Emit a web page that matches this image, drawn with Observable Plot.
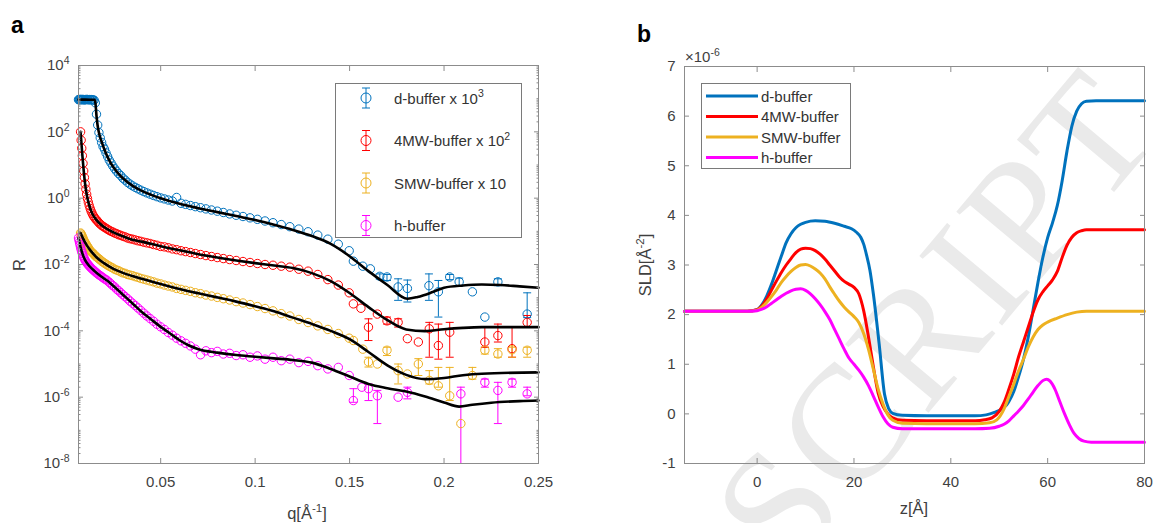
<!DOCTYPE html>
<html><head><meta charset="utf-8">
<script src="https://cdn.jsdelivr.net/npm/d3@7"></script>
<script src="https://cdn.jsdelivr.net/npm/@observablehq/plot@0.6"></script>
<style>
body{margin:0;background:#fff;}
#wrap{position:relative;width:1155px;height:523px;overflow:hidden;font-family:"Liberation Sans",Arial,sans-serif;background:#fff;}
.layer{position:absolute;top:0;}
</style></head><body>
<div id="wrap"></div>
<script>
// ---------- Panel a data (displayed, already scaled) ----------
const qGrid = [0.0065,0.00676,0.00703,0.00731,0.0076,0.0079,0.00822,0.00855,0.00889,0.00925,0.00962,0.01,0.0104,0.01082,0.01125,0.0117,0.01217,0.01266,0.01316,0.01369,0.01424,0.01481,0.0154,0.01602,0.01666,0.01732,0.01801,0.01874,0.01948,0.02026,0.02107,0.02192,0.0228,0.02371,0.02466,0.02564,0.02667,0.02773,0.02884,0.03,0.0312,0.03245,0.03375,0.0351,0.0365,0.03796,0.03948,0.04106,0.0427,0.04441,0.04618,0.04803,0.04995,0.05195,0.05403,0.05619,0.05844,0.06077,0.0632,0.06573,0.06836,0.0711,0.07394,0.0769,0.07997,0.08317,0.0865,0.08996,0.09356,0.0973,0.10119,0.10524,0.10945,0.11383,0.11838,0.12312,0.12804,0.13316,0.13849,0.14403,0.14979];

const dBufR = [930,940,930,950,940,930,940,950,930,940,920,940,930,950,940,930,940,920,940,930,920,900,750,340,160,95,66,48,36,30,23,18,14,11.5,9.3,7.7,6.5,5.5,4.8,4.0,3.5,3.0,2.65,2.35,2.12,1.92,1.74,1.58,1.44,1.32,1.21,1.11,1.02,0.95,0.88,0.82,1.05,0.7,0.65,0.6,0.555,0.515,0.475,0.44,0.405,0.37,0.335,0.305,0.28,0.255,0.23,0.205,0.182,0.16,0.138,0.117,0.097,0.077,0.058,0.041,0.026];
const m4BufR = [null,null,null,null,100,56,32,19,11.2,6.6,4.2,2.7,1.86,1.32,0.98,0.76,0.6,0.49,0.41,0.35,0.3,0.27,0.24,0.22,0.2,0.18,0.166,0.151,0.141,0.132,0.123,0.115,0.107,0.1,0.095,0.089,0.085,0.079,0.076,0.071,0.068,0.063,0.06,0.058,0.055,0.052,0.05,0.047,0.045,0.043,0.04,0.038,0.035,0.034,0.032,0.0295,0.028,0.026,0.0245,0.023,0.0214,0.02,0.0186,0.0174,0.0162,0.0151,0.0141,0.0132,0.0123,0.0115,0.0107,0.01,0.0095,0.0089,0.0083,0.0072,0.0063,0.005,0.0035,0.0024,0.0014];
const smwBufR = [null,null,null,null,0.089,0.083,0.076,0.069,0.062,0.055,0.05,0.046,0.042,0.038,0.035,0.032,0.029,0.026,0.0245,0.023,0.0214,0.02,0.018,0.017,0.0158,0.0148,0.0138,0.0126,0.0117,0.011,0.0102,0.0095,0.0089,0.0083,0.0078,0.0072,0.0068,0.0065,0.006,0.0056,0.0054,0.005,0.0048,0.0046,0.0043,0.0041,0.0038,0.0036,0.0034,0.0032,0.003,0.00275,0.0026,0.0024,0.00224,0.0021,0.0019,0.00178,0.00166,0.00155,0.00141,0.00132,0.0012,0.00112,0.00102,0.00093,0.00085,0.00076,0.00069,0.00062,0.00054,0.00047,0.0004,0.00033,0.00028,0.00022,0.000178,0.000141,0.00011,8.3e-5,6.0e-5];
const hBufR = [0.063,0.054,0.046,0.039,0.033,0.028,0.0245,0.0214,0.0186,0.0166,0.0148,0.0135,0.0123,0.0112,0.0105,0.0098,0.0091,0.0085,0.0079,0.0074,0.0069,0.0065,0.006,0.0056,0.0052,0.0049,0.0046,0.0043,0.004,0.0037,0.0035,0.0032,0.0029,0.0026,0.0023,0.0021,0.0018,0.00162,0.00141,0.00123,0.00107,0.00093,0.00079,0.00068,0.00058,0.00049,0.00041,0.00034,0.00028,0.000234,0.000195,0.000158,0.000132,0.00011,8.9e-5,7.4e-5,6.0e-5,5.0e-5,4.2e-5,3.5e-5,2.8e-5,1.9e-5,2.5e-5,2.2e-5,2.4e-5,2.0e-5,2.1e-5,1.8e-5,1.9e-5,1.6e-5,1.75e-5,1.4e-5,1.6e-5,1.26e-5,1.4e-5,1.1e-5,1.2e-5,8.9e-6,7.1e-6,7.9e-6,4.5e-6];

// high-q points: [q, R, errLow, errHigh]
const dBufHigh = [[0.152,1.26e-2,null,null],[0.157,8.9e-3,null,null],[0.161,7.4e-3,null,null],[0.166,4.4e-3,3.6e-3,5.2e-3],[0.1698,4.2e-3,3.3e-3,5.0e-3],[0.1757,2.1e-3,8.3e-4,3.7e-3],[0.1806,1.9e-3,7.4e-4,3.4e-3],[0.192,2.3e-3,8.3e-4,5.2e-3],[0.197,1.5e-3,2.6e-4,3.3e-3],[0.203,4.2e-3,3.5e-3,5.0e-3],[0.208,3.0e-3,2.2e-3,3.9e-3],[0.215,1.5e-3,null,null],[0.2216,2.6e-4,null,null],[0.2285,3.0e-3,2.3e-3,3.7e-3],[0.244,3.2e-4,2.5e-4,1.4e-3]];
const m4BufHigh = [[0.152,6.5e-4,null,null],[0.156,4.8e-4,null,null],[0.160,1.29e-4,5.1e-5,2.3e-4],[0.1647,3.2e-4,null,null],[0.1698,2.0e-4,1.6e-4,2.6e-4],[0.1757,1.8e-4,1.3e-4,2.3e-4],[0.1806,5.8e-5,null,null],[0.1864,4.6e-5,null,null],[0.1922,1.15e-4,1.6e-5,1.8e-4],[0.197,3.6e-5,1.4e-5,1.6e-4],[0.203,9.1e-5,1.6e-5,1.8e-4],[0.2216,4.6e-5,3.2e-5,1.3e-4],[0.2285,7.2e-5,4.6e-5,1.6e-4],[0.236,2.9e-5,1.6e-5,1.3e-4],[0.244,1.8e-4,1.3e-4,2.9e-4]];
const smwBufHigh = [[0.152,5.1e-5,null,null],[0.157,2.8e-5,null,null],[0.160,1.15e-5,8.1e-6,1.6e-5],[0.1647,1.0e-5,null,null],[0.1698,2.6e-5,1.8e-5,3.2e-5],[0.1757,6.3e-6,2.5e-6,1.0e-5],[0.1806,5.0e-6,null,null],[0.1864,1.0e-5,4.5e-6,1.45e-5],[0.1922,3.2e-6,2.5e-6,6.3e-6],[0.197,2.2e-6,2.0e-6,7.9e-6],[0.203,1.1e-6,7.9e-7,7.9e-6],[0.2089,1.6e-7,null,null],[0.215,4.5e-6,3.5e-6,7.9e-6],[0.2216,2.6e-5,2.0e-5,3.2e-5],[0.2285,2.0e-5,1.6e-5,2.9e-5],[0.236,2.7e-5,1.6e-5,3.2e-5],[0.244,2.6e-5,1.6e-5,3.2e-5]];
const hBufHigh = [[0.152,7.9e-7,7.0e-7,1.8e-6],[0.1565,2.0e-6,null,null],[0.160,1.8e-6,7.9e-7,2.5e-6],[0.1647,1.1e-6,1.6e-7,1.6e-6],[0.1757,1.0e-6,null,null],[0.1806,1.4e-6,8.9e-7,2.0e-6],[0.2089,1.26e-6,5e-9,2.0e-6],[0.2216,2.8e-6,2.0e-6,3.5e-6],[0.2285,1.6e-6,1.6e-7,2.8e-6],[0.236,2.8e-6,2.0e-6,3.5e-6],[0.244,1.26e-6,1.1e-6,2.0e-6]];

// fits: [q, R]
const dBufFit = [[0.0065,933],[0.0100,933],[0.0150,930],[0.0155,708],[0.0160,316],[0.0166,158],[0.0175,85],[0.0185,55],[0.020,31.6],[0.0225,14.8],[0.025,8.5],[0.0275,5.6],[0.030,4.0],[0.035,2.4],[0.040,1.66],[0.045,1.26],[0.050,1.0],[0.060,0.676],[0.070,0.5],[0.080,0.38],[0.090,0.288],[0.100,0.219],[0.110,0.158],[0.120,0.11],[0.130,0.072],[0.140,0.0417],[0.150,0.0178],[0.160,0.0063],[0.170,0.0024],[0.1806,9.3e-4],[0.186,1.05e-3],[0.194,1.48e-3],[0.200,2.0e-3],[0.210,2.34e-3],[0.220,2.5e-3],[0.230,2.4e-3],[0.240,2.19e-3],[0.250,2.0e-3]];
const m4BufFit = [[0.0076,100],[0.0080,50],[0.0086,17.8],[0.0093,6.3],[0.010,2.7],[0.011,1.17],[0.012,0.66],[0.0135,0.37],[0.015,0.26],[0.0175,0.178],[0.020,0.135],[0.025,0.093],[0.030,0.071],[0.035,0.056],[0.040,0.049],[0.050,0.0355],[0.060,0.0269],[0.070,0.0204],[0.080,0.0162],[0.090,0.0132],[0.100,0.011],[0.110,0.0093],[0.120,0.0078],[0.130,0.0055],[0.140,0.00316],[0.150,0.00138],[0.160,5.2e-4],[0.170,2.1e-4],[0.180,1.1e-4],[0.190,9.8e-5],[0.200,1.12e-4],[0.210,1.23e-4],[0.220,1.29e-4],[0.250,1.29e-4]];
const smwBufFit = [[0.0076,0.089],[0.009,0.059],[0.011,0.037],[0.013,0.0257],[0.016,0.0166],[0.020,0.011],[0.025,0.0074],[0.030,0.0056],[0.035,0.0045],[0.040,0.0037],[0.050,0.00257],[0.060,0.00182],[0.070,0.00135],[0.080,0.00102],[0.090,7.6e-4],[0.100,5.5e-4],[0.110,3.9e-4],[0.120,2.5e-4],[0.130,1.62e-4],[0.140,1.0e-4],[0.150,5.6e-5],[0.160,2.3e-5],[0.170,9.1e-6],[0.180,4.7e-6],[0.190,3.5e-6],[0.200,3.8e-6],[0.210,4.6e-6],[0.220,5.1e-6],[0.250,5.6e-6]];
const hBufFit = [[0.0065,0.063],[0.0075,0.0355],[0.0085,0.0219],[0.010,0.0135],[0.0125,0.0087],[0.015,0.0063],[0.0175,0.0048],[0.020,0.0038],[0.0225,0.003],[0.025,0.00224],[0.030,0.00123],[0.035,6.8e-4],[0.040,3.7e-4],[0.045,2.2e-4],[0.050,1.32e-4],[0.055,8.3e-5],[0.060,5.2e-5],[0.065,3.6e-5],[0.070,2.8e-5],[0.080,2.2e-5],[0.090,1.86e-5],[0.100,1.66e-5],[0.110,1.48e-5],[0.120,1.32e-5],[0.130,1.1e-5],[0.140,7.1e-6],[0.150,4.2e-6],[0.160,2.5e-6],[0.170,1.86e-6],[0.180,1.48e-6],[0.190,1.05e-6],[0.200,6.9e-7],[0.208,5.2e-7],[0.215,5.9e-7],[0.225,6.8e-7],[0.240,7.6e-7],[0.250,7.9e-7]];

// ---------- Panel b data: [z (Å), SLD (x1e-6 Å^-2)] ----------
const dSLD = [[-15,2.07],[-5,2.07],[-2,2.07],[0,2.1],[1,2.2],[2,2.38],[3,2.62],[4,2.9],[5,3.18],[6,3.45],[7,3.63],[8,3.75],[9,3.82],[10,3.86],[12,3.89],[14,3.88],[16,3.84],[18,3.78],[19.5,3.73],[20.5,3.66],[21.4,3.56],[22,3.42],[22.6,3.2],[23.3,2.89],[24,2.42],[25.2,1.41],[26.3,0.4],[27.2,0.1],[28,0.01],[30,-0.03],[35,-0.04],[40,-0.04],[45,-0.04],[47.3,-0.02],[49,0.03],[50.5,0.1],[51.5,0.18],[52,0.25],[53,0.45],[54,0.75],[55,1.1],[56,1.55],[57,2.1],[58,2.65],[59,3.15],[60,3.55],[61,3.85],[62,4.2],[63,4.7],[64,5.3],[65,5.8],[66,6.1],[67,6.25],[68,6.3],[70,6.31],[80,6.31]];
const m4SLD = [[-15,2.07],[-2,2.07],[0,2.1],[1,2.18],[2,2.32],[3,2.5],[4,2.68],[5,2.85],[6,3.0],[7,3.13],[8,3.25],[9,3.32],[10,3.34],[11,3.33],[12,3.29],[13,3.22],[14,3.12],[15,3.0],[16,2.88],[17,2.76],[18,2.67],[19,2.61],[20,2.55],[21,2.42],[22,2.08],[23,1.55],[24,0.95],[25,0.42],[26,0.15],[27,0.0],[28,-0.08],[30,-0.13],[35,-0.14],[45,-0.14],[47,-0.12],[48.5,-0.08],[50,0.05],[51,0.23],[52,0.5],[53,0.8],[54,1.15],[55,1.45],[56,1.75],[57,2.05],[58,2.3],[59,2.46],[60,2.58],[61,2.7],[62,2.87],[63,3.15],[64,3.4],[65,3.56],[66,3.65],[67,3.69],[68,3.71],[80,3.71]];
const smwSLD = [[-15,2.07],[-2,2.07],[0,2.09],[1,2.15],[2,2.25],[3,2.37],[4,2.5],[5,2.65],[6,2.77],[7,2.87],[8,2.95],[9,3.0],[10,3.01],[11,2.98],[12,2.92],[13,2.84],[14,2.72],[15,2.56],[16,2.41],[17,2.27],[18,2.15],[19,2.05],[20,1.96],[21,1.84],[22,1.62],[23,1.3],[24,0.9],[25,0.5],[26,0.2],[27,-0.02],[28,-0.13],[30,-0.19],[35,-0.2],[45,-0.2],[48,-0.18],[49.5,-0.12],[51,0.1],[52,0.35],[53,0.6],[54,0.87],[55,1.1],[56,1.35],[57,1.55],[58,1.7],[59,1.79],[60,1.85],[62,1.93],[64,2.0],[66,2.05],[68,2.07],[80,2.07]];
const hSLD = [[-15,2.07],[-2,2.07],[0,2.08],[1,2.11],[2,2.16],[3,2.23],[4,2.3],[5,2.37],[6,2.43],[7,2.48],[8,2.51],[9,2.52],[10,2.49],[11,2.42],[12,2.32],[13,2.2],[14,2.06],[15,1.9],[16,1.7],[17,1.5],[18,1.3],[19,1.12],[20,1.0],[21,0.88],[22,0.74],[23,0.57],[24,0.36],[25,0.14],[26,-0.06],[27,-0.2],[28,-0.27],[30,-0.3],[35,-0.3],[45,-0.3],[48,-0.29],[50,-0.25],[51,-0.21],[52,-0.14],[53,-0.04],[54,0.06],[55,0.17],[56,0.3],[57,0.44],[58,0.57],[59,0.67],[59.8,0.7],[60.5,0.66],[61.5,0.5],[62.5,0.25],[63.5,0.0],[64.5,-0.22],[65.5,-0.4],[66.5,-0.5],[67.5,-0.55],[69,-0.57],[80,-0.57]];

// ---------- labels / ticks ----------
const seriesKeys = ["d","4MW","SMW","h"];
const seriesColors = ["#0072BD","#FF0000","#EDB120","#FF00FF"];
const legendALabels = ["d-buffer x 10^{3}","4MW-buffer x 10^{2}","SMW-buffer x 10","h-buffer"];
const legendBLabels = ["d-buffer","4MW-buffer","SMW-buffer","h-buffer"];
const qTicks = [0.05,0.1,0.15,0.2,0.25];
const rTicks = [1e-8,1e-6,1e-4,1e-2,1,1e2,1e4];
const zTicks = [0,20,40,60,80];
const sldTicks = [-1,0,1,2,3,4,5,6,7];

// ---------- build tidy tables ----------
const denseArr = [dBufR, m4BufR, smwBufR, hBufR];
const highArr = [dBufHigh, m4BufHigh, smwBufHigh, hBufHigh];
const fitArr = [dBufFit, m4BufFit, smwBufFit, hBufFit];
const sldArr = [dSLD, m4SLD, smwSLD, hSLD];

const points = [], bars = [], fits = [], sld = [];
seriesKeys.forEach((key, s) => {
  qGrid.forEach((q, i) => { if (denseArr[s][i] != null) points.push({q, R: denseArr[s][i], key}); });
  highArr[s].forEach(([q, R, lo, hi]) => {
    points.push({q, R, key});
    if (lo != null) bars.push({q, lo, hi, key});
  });
  fitArr[s].forEach(([q, R]) => fits.push({q, R, key}));
  sldArr[s].forEach(([z, v]) => sld.push({z, v, key}));
});

// minor log ticks (tick positions only)
const rMinor = [];
for (let e = -8; e < 4; e++) for (let k = 1; k <= 9; k++) {
  if (k === 1 && e % 2 === 0) continue;
  rMinor.push(k * Math.pow(10, e));
}

const axisGrey = "#8c8c8c";
const textGrey = "#3f3f3f";
const FONT = "'Liberation Sans', Arial, sans-serif";
const capSymbol = {draw(ctx, size) { const w = Math.sqrt(size / Math.PI); ctx.moveTo(-w, 0); ctx.lineTo(w, 0); }};
const tickOnly = {tickFormat: () => "", label: null, stroke: axisGrey};
const baseStyle = {background: "transparent", fontFamily: FONT, fontSize: "15px", color: textGrey, overflow: "visible"};

const plotA = Plot.plot({
  width: 578, height: 523,
  marginLeft: 78, marginRight: 40, marginTop: 65, marginBottom: 60,
  style: baseStyle,
  x: {domain: [0.0065, 0.25]},
  y: {type: "log", domain: [1e-8, 1e4]},
  color: {domain: seriesKeys, range: seriesColors},
  marks: [
    Plot.ruleX(bars, {x: "q", y1: "lo", y2: "hi", stroke: "key", strokeWidth: 1, clip: true}),
    Plot.dot(bars, {x: "q", y: "hi", symbol: capSymbol, r: 4, stroke: "key", fill: "none", strokeWidth: 1, clip: true}),
    Plot.dot(bars, {x: "q", y: "lo", symbol: capSymbol, r: 4, stroke: "key", fill: "none", strokeWidth: 1, clip: true}),
    Plot.dot(points, {x: "q", y: "R", r: 4.2, stroke: "key", fill: "none", strokeWidth: 1}),
    Plot.line(fits, {x: "q", y: "R", z: "key", stroke: "black", strokeWidth: 2.6, curve: "monotone-x"}),
    Plot.frame({stroke: axisGrey}),
    Plot.axisX(qTicks, {anchor: "bottom", tickSize: 0, tickPadding: 13, tickFormat: d => String(d), label: null, fontSize: 15}),
    Plot.axisX(qTicks, {anchor: "bottom", tickSize: -5, ...tickOnly}),
    Plot.axisX(qTicks, {anchor: "top", tickSize: -5, ...tickOnly}),
    Plot.axisY(rTicks, {anchor: "left", tickSize: 0, tickPadding: 9, tickFormat: d => "10^" + Math.round(Math.log10(d)), label: null, fontSize: 15}),
    Plot.axisY(rTicks, {anchor: "left", tickSize: -5, ...tickOnly}),
    Plot.axisY(rTicks, {anchor: "right", tickSize: -5, ...tickOnly}),
    Plot.axisY(rMinor, {anchor: "left", tickSize: -2.5, ...tickOnly}),
    Plot.axisY(rMinor, {anchor: "right", tickSize: -2.5, ...tickOnly})
  ]
});

const plotB = Plot.plot({
  width: 577, height: 523,
  marginLeft: 106, marginRight: 11, marginTop: 66, marginBottom: 60,
  style: baseStyle,
  x: {domain: [-15, 80]},
  y: {domain: [-1, 7]},
  color: {domain: seriesKeys, range: seriesColors},
  marks: [
    Plot.line(sld, {x: "z", y: "v", z: "key", stroke: "key", strokeWidth: 3, curve: "monotone-x"}),
    Plot.frame({stroke: axisGrey}),
    Plot.axisX(zTicks, {anchor: "bottom", tickSize: 0, tickPadding: 13, tickFormat: d => String(d), label: null, fontSize: 15}),
    Plot.axisX(zTicks, {anchor: "bottom", tickSize: -5, ...tickOnly}),
    Plot.axisX(zTicks, {anchor: "top", tickSize: -5, ...tickOnly}),
    Plot.axisY(sldTicks, {anchor: "left", tickSize: 0, tickPadding: 9, tickFormat: d => String(d), label: null, fontSize: 15}),
    Plot.axisY(sldTicks, {anchor: "left", tickSize: -5, ...tickOnly}),
    Plot.axisY(sldTicks, {anchor: "right", tickSize: -5, ...tickOnly})
  ]
});

const NS = "http://www.w3.org/2000/svg";
// superscripts for log tick labels
plotA.querySelectorAll('g[aria-label="y-axis tick label"] text').forEach(t => {
  const s = t.textContent;
  if (!s.startsWith("10^")) return;
  t.textContent = "";
  const a = document.createElementNS(NS, "tspan"); a.textContent = "10"; t.appendChild(a);
  const b = document.createElementNS(NS, "tspan"); b.textContent = s.slice(3);
  b.setAttribute("dy", "-6"); b.setAttribute("font-size", "10.5"); t.appendChild(b);
});

// ---------- assemble ----------
const wrap = document.getElementById("wrap");

// watermark (behind the plots)
const wm = d3.select(wrap).append("svg").attr("class", "layer").style("left", "0px")
  .attr("width", 1155).attr("height", 523).style("z-index", 0);
wm.append("text").attr("x", 790).attr("y", 578).attr("transform", "rotate(-50 790 578)")
  .attr("font-family", "'Liberation Serif', 'DejaVu Serif', serif").attr("font-size", 165)
  .attr("letter-spacing", 4).attr("fill", "#eaeaea").text("SCRIPT");

plotA.classList.add("layer"); plotA.style.left = "0px"; plotA.style.zIndex = 1;
plotB.classList.add("layer"); plotB.style.left = "578px"; plotB.style.zIndex = 1;
wrap.appendChild(plotA); wrap.appendChild(plotB);

// overlay: panel letters, axis titles, legends
const ov = d3.select(wrap).append("svg").attr("class", "layer").style("left", "0px")
  .attr("width", 1155).attr("height", 523).style("z-index", 2)
  .attr("font-family", FONT);

function rich(sel, str, size) {
  const parts = str.split(/(\^\{[^}]*\})/).filter(p => p);
  let up = false;
  parts.forEach(p => {
    const ts = sel.append("tspan");
    if (p.startsWith("^{")) {
      ts.text(p.slice(2, -1)).attr("font-size", size * 0.7).attr("dy", -size * 0.42); up = true;
    } else {
      ts.text(p); if (up) { ts.attr("dy", size * 0.42); up = false; }
    }
  });
  return sel;
}

ov.append("text").attr("x", 11).attr("y", 33).attr("font-size", 23).attr("font-weight", "bold").attr("fill", "#000").text("a");
ov.append("text").attr("x", 637).attr("y", 42).attr("font-size", 23).attr("font-weight", "bold").attr("fill", "#000").text("b");

rich(ov.append("text").attr("text-anchor", "middle").attr("font-size", 16.5).attr("fill", textGrey)
  .attr("transform", "translate(25,265) rotate(-90)"), "R", 16.5);
rich(ov.append("text").attr("x", 307).attr("y", 519).attr("text-anchor", "middle").attr("font-size", 16.5).attr("fill", textGrey), "q[Å^{-1}]", 16.5);
rich(ov.append("text").attr("text-anchor", "middle").attr("font-size", 16.5).attr("fill", textGrey)
  .attr("transform", "translate(651,265) rotate(-90)"), "SLD[Å^{-2}]", 16.5);
rich(ov.append("text").attr("x", 914).attr("y", 514).attr("text-anchor", "middle").attr("font-size", 16.5).attr("fill", textGrey), "z[Å]", 16.5);
rich(ov.append("text").attr("x", 685).attr("y", 62).attr("font-size", 15).attr("fill", textGrey), "×10^{-6}", 15);

// legend a
ov.append("rect").attr("x", 335.5).attr("y", 83.5).attr("width", 186).attr("height", 154)
  .attr("fill", "#fff").attr("stroke", "#7a7a7a").attr("stroke-width", 1);
legendALabels.forEach((lab, i) => {
  const y = 98 + i * 42.5, c = seriesColors[i];
  const g = ov.append("g").attr("stroke", c).attr("fill", "none").attr("stroke-width", 1);
  g.append("line").attr("x1", 366).attr("x2", 366).attr("y1", y - 10).attr("y2", y + 10);
  g.append("line").attr("x1", 362).attr("x2", 370).attr("y1", y - 10).attr("y2", y - 10);
  g.append("line").attr("x1", 362).attr("x2", 370).attr("y1", y + 10).attr("y2", y + 10);
  g.append("circle").attr("cx", 366).attr("cy", y).attr("r", 5);
  rich(ov.append("text").attr("x", 394).attr("y", y + 5.5).attr("font-size", 15).attr("fill", "#333"), lab, 15);
});

// legend b
ov.append("rect").attr("x", 701.5).attr("y", 83.5).attr("width", 149).attr("height", 85)
  .attr("fill", "#fff").attr("stroke", "#7a7a7a").attr("stroke-width", 1);
legendBLabels.forEach((lab, i) => {
  const y = 96 + i * 20.5;
  ov.append("line").attr("x1", 706).attr("x2", 758).attr("y1", y).attr("y2", y)
    .attr("stroke", seriesColors[i]).attr("stroke-width", 3);
  ov.append("text").attr("x", 761).attr("y", y + 5.5).attr("font-size", 15).attr("fill", "#333").text(lab);
});
</script>
</body></html>
